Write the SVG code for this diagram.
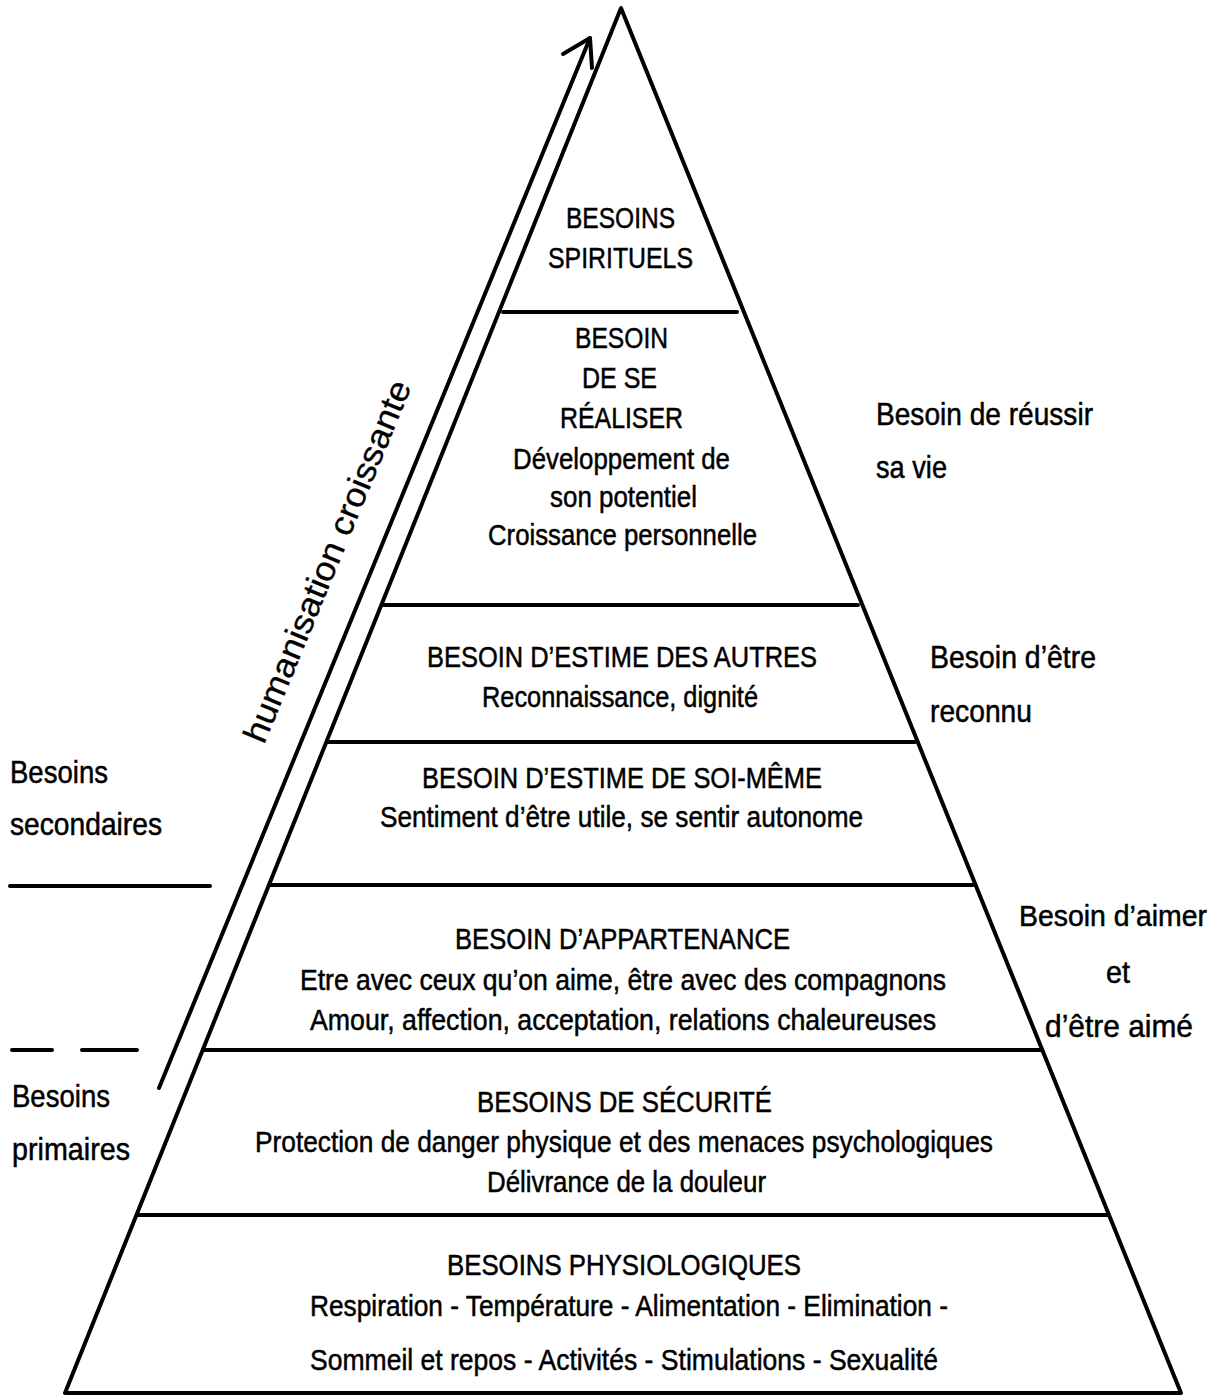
<svg xmlns="http://www.w3.org/2000/svg" width="1227" height="1399" viewBox="0 0 1227 1399">
<style>
  .ln { stroke:#000; stroke-width:4; fill:none; stroke-linecap:round; stroke-linejoin:round; }
  .t { font-family:"Liberation Sans", Arial, sans-serif; font-size:30px; fill:#000; stroke:#000; stroke-width:0.5; }
  .side { font-family:"Liberation Sans", Arial, sans-serif; font-size:32px; fill:#000; stroke:#000; stroke-width:0.5; }
</style>
<rect width="1227" height="1399" fill="#fff"/>
<g id="pyramid">
  <polygon class="ln" points="621,8 65,1393 1181,1393"/>
  <line class="ln" x1="503" y1="312" x2="737" y2="312"/>
  <line class="ln" x1="382" y1="605" x2="858" y2="605"/>
  <line class="ln" x1="327" y1="742" x2="915" y2="742"/>
  <line class="ln" x1="270" y1="885" x2="973" y2="885"/>
  <line class="ln" x1="203" y1="1050" x2="1041" y2="1050"/>
  <line class="ln" x1="137" y1="1215" x2="1108" y2="1215"/>
</g>
<g id="tier-spirituels">
  <text class="t" x="566" y="228" textLength="109" lengthAdjust="spacingAndGlyphs">BESOINS</text>
  <text class="t" x="548" y="268" textLength="145" lengthAdjust="spacingAndGlyphs">SPIRITUELS</text>
</g>
<g id="tier-realiser">
  <text class="t" x="575" y="348" textLength="93" lengthAdjust="spacingAndGlyphs">BESOIN</text>
  <text class="t" x="582" y="388" textLength="75" lengthAdjust="spacingAndGlyphs">DE SE</text>
  <text class="t" x="560" y="428" textLength="123" lengthAdjust="spacingAndGlyphs">RÉALISER</text>
  <text class="t" x="513" y="469" textLength="217" lengthAdjust="spacingAndGlyphs">Développement de</text>
  <text class="t" x="550" y="507" textLength="147" lengthAdjust="spacingAndGlyphs">son potentiel</text>
  <text class="t" x="488" y="545" textLength="269" lengthAdjust="spacingAndGlyphs">Croissance personnelle</text>
</g>
<g id="tier-estime-autres">
  <text class="t" x="427" y="667" textLength="390" lengthAdjust="spacingAndGlyphs">BESOIN D’ESTIME DES AUTRES</text>
  <text class="t" x="482" y="707" textLength="276" lengthAdjust="spacingAndGlyphs">Reconnaissance, dignité</text>
</g>
<g id="tier-estime-soi">
  <text class="t" x="422" y="788" textLength="400" lengthAdjust="spacingAndGlyphs">BESOIN D’ESTIME DE SOI-MÊME</text>
  <text class="t" x="380" y="827" textLength="483" lengthAdjust="spacingAndGlyphs">Sentiment d’être utile, se sentir autonome</text>
</g>
<g id="tier-appartenance">
  <text class="t" x="455" y="949" textLength="335" lengthAdjust="spacingAndGlyphs">BESOIN D’APPARTENANCE</text>
  <text class="t" x="300" y="990" textLength="646" lengthAdjust="spacingAndGlyphs">Etre avec ceux qu’on aime, être avec des compagnons</text>
  <text class="t" x="310" y="1030" textLength="626" lengthAdjust="spacingAndGlyphs">Amour, affection, acceptation, relations chaleureuses</text>
</g>
<g id="tier-securite">
  <text class="t" x="477" y="1112" textLength="295" lengthAdjust="spacingAndGlyphs">BESOINS DE SÉCURITÉ</text>
  <text class="t" x="255" y="1152" textLength="738" lengthAdjust="spacingAndGlyphs">Protection de danger physique et des menaces psychologiques</text>
  <text class="t" x="487" y="1192" textLength="279" lengthAdjust="spacingAndGlyphs">Délivrance de la douleur</text>
</g>
<g id="tier-physiologiques">
  <text class="t" x="447" y="1275" textLength="354" lengthAdjust="spacingAndGlyphs">BESOINS PHYSIOLOGIQUES</text>
  <text class="t" x="310" y="1316" textLength="638" lengthAdjust="spacingAndGlyphs">Respiration - Température - Alimentation - Elimination -</text>
  <text class="t" x="310" y="1370" textLength="628" lengthAdjust="spacingAndGlyphs">Sommeil et repos - Activités - Stimulations - Sexualité</text>
</g>
<g id="right-labels">
  <text class="side" x="876" y="425" textLength="217" lengthAdjust="spacingAndGlyphs">Besoin de réussir</text>
  <text class="side" x="876" y="478" textLength="71" lengthAdjust="spacingAndGlyphs">sa vie</text>
  <text class="side" x="930" y="668" textLength="166" lengthAdjust="spacingAndGlyphs">Besoin d’être</text>
  <text class="side" x="930" y="722" textLength="102" lengthAdjust="spacingAndGlyphs">reconnu</text>
  <text class="side" style="font-size:29px" x="1019" y="926" textLength="188" lengthAdjust="spacingAndGlyphs">Besoin d’aimer</text>
  <text class="side" x="1106" y="983" textLength="24" lengthAdjust="spacingAndGlyphs">et</text>
  <text class="side" x="1045" y="1037" textLength="148" lengthAdjust="spacingAndGlyphs">d’être aimé</text>
</g>
<g id="left-labels">
  <text class="side" x="10" y="783" textLength="98" lengthAdjust="spacingAndGlyphs">Besoins</text>
  <text class="side" x="10" y="835" textLength="152" lengthAdjust="spacingAndGlyphs">secondaires</text>
  <line class="ln" x1="10" y1="886" x2="210" y2="886"/>
  <line class="ln" x1="12" y1="1050" x2="52" y2="1050"/>
  <line class="ln" x1="82" y1="1050" x2="137" y2="1050"/>
  <text class="side" x="12" y="1107" textLength="98" lengthAdjust="spacingAndGlyphs">Besoins</text>
  <text class="side" x="12" y="1160" textLength="118" lengthAdjust="spacingAndGlyphs">primaires</text>
</g>
<g id="connectors">
  <line class="ln" x1="159" y1="1088" x2="590" y2="38"/>
  <polyline class="ln" points="563,54 590,38 592,68"/>
  <text class="t" style="font-size:34px;stroke-width:0.3" transform="translate(264,745) rotate(-67.6)" textLength="388" lengthAdjust="spacingAndGlyphs">humanisation croissante</text>
</g>
</svg>
